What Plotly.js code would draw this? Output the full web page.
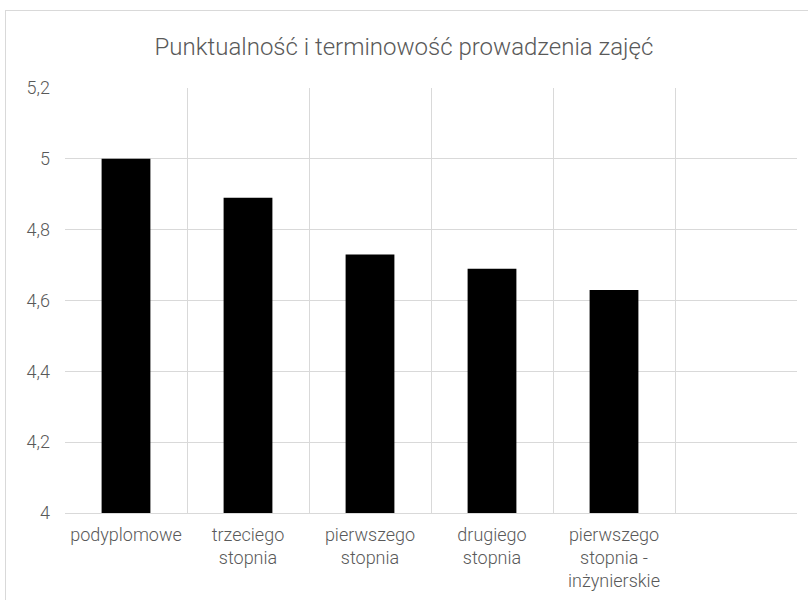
<!DOCTYPE html>
<html><head><meta charset="utf-8">
<script src="https://cdn.plot.ly/plotly-3.0.1.min.js"></script>
<style>
body{margin:0;background:#fff;}
#chart{position:absolute;left:0;top:0;width:808px;height:600px;}
#frame{position:absolute;left:5px;top:10px;width:820px;height:600px;border:1px solid #d9d9d9;pointer-events:none;}
</style></head>
<body>
<div id="chart"></div>
<div id="frame"></div>
<script>
const categories = ["podyplomowe", "trzeciego<br>stopnia", "pierwszego<br>stopnia", "drugiego<br>stopnia", "pierwszego<br>stopnia -<br>inżynierskie", " "];
const values = [5.0, 4.89, 4.73, 4.69, 4.63, null];
const titleText = "Punktualność i terminowość prowadzenia zajęć";
const fontFam = "Roboto, 'Open Sans', sans-serif";

Plotly.newPlot('chart', [{
  type: 'bar', x: categories, y: values, marker: {color: '#000000'}, hoverinfo: 'none'
}], {
  width: 808, height: 600,
  margin: {l: 65, r: 11, t: 88, b: 87},
  paper_bgcolor: 'rgba(0,0,0,0)', plot_bgcolor: '#fff',
  separators: ', ',
  bargap: 0.6,
  showlegend: false,
  font: {family: fontFam, color: '#595959', weight: 300},
  title: {text: titleText, font: {size: 24, color: '#595959', family: fontFam, weight: 300}, x: 0.5, xref: 'container', y: 0.922, yanchor: 'middle'},
  xaxis: {type: 'category', tickson: 'boundaries', showgrid: true, gridcolor: '#d9d9d9', ticks: '', showline: true, linecolor: '#d9d9d9', tickfont: {size: 18, color: '#595959', weight: 300}, ticklabelstandoff: 5, fixedrange: true},
  yaxis: {range: [4, 5.2], dtick: 0.2, tick0: 4, showgrid: true, gridcolor: '#d9d9d9', zeroline: false, showline: false, ticks: '', tickfont: {size: 18, color: '#595959', weight: 300}, ticklabelstandoff: 14, fixedrange: true}
}, {staticPlot: true});
</script>
</body></html>
